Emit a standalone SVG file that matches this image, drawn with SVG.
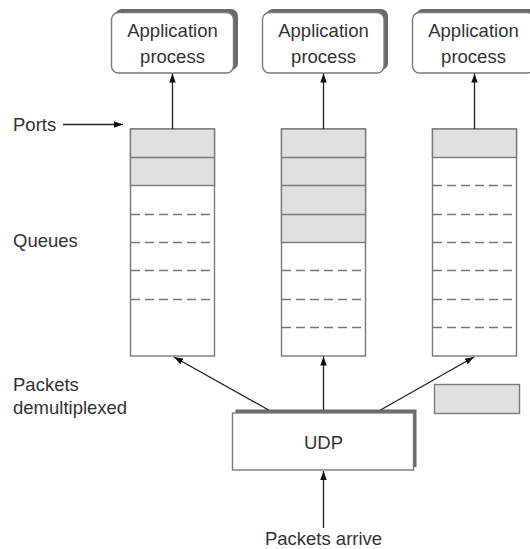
<svg xmlns="http://www.w3.org/2000/svg" width="530" height="549" viewBox="0 0 530 549">
<defs>
<marker id="ah" markerWidth="10" markerHeight="8" refX="9" refY="4" orient="auto" markerUnits="userSpaceOnUse">
<path d="M0,0.8 L9,4 L0,7.2 Z" fill="#111"/>
</marker>
<style>
text{font-family:"Liberation Sans",Arial,sans-serif;font-size:18.5px;fill:#333}
.mid{text-anchor:middle}
.box{fill:#fff;stroke:#7a7a7a;stroke-width:1.4}
.shadow{fill:#6a6a6a}
.gray{fill:#e0e0e0;stroke:#7a7a7a;stroke-width:1.4}
.sep{stroke:#7a7a7a;stroke-width:1.4}
.dash{stroke:#777;stroke-width:1.5;stroke-dasharray:9,5}
.conn{stroke:#222;stroke-width:1.3;fill:none;marker-end:url(#ah)}
</style>
</defs>
<rect width="530" height="549" fill="#fff"/>

<g id="app1">
<rect class="shadow" x="115" y="9" width="123" height="61" rx="7"/>
<rect class="box" x="111.5" y="12.5" width="122" height="60.5" rx="7"/>
<text class="mid" x="172.5" y="37">Application</text>
<text class="mid" x="172.5" y="63">process</text>
</g>
<g id="app2">
<rect class="shadow" x="266" y="9" width="122" height="61" rx="7"/>
<rect class="box" x="262.5" y="12.5" width="121.5" height="60.5" rx="7"/>
<text class="mid" x="323.5" y="37">Application</text>
<text class="mid" x="323.5" y="63">process</text>
</g>
<g id="app3">
<rect class="shadow" x="416" y="9" width="123" height="61" rx="7"/>
<rect class="box" x="412.5" y="12.5" width="122" height="60.5" rx="7"/>
<text class="mid" x="473.5" y="37">Application</text>
<text class="mid" x="473.5" y="63">process</text>
</g>

<g id="queue1">
<rect class="box" x="130.5" y="129" width="84" height="227"/>
<rect class="gray" x="130.5" y="129" width="84" height="56.5"/>
<line class="sep" x1="130.5" y1="157.5" x2="214.5" y2="157.5"/>
<line class="dash" x1="131" y1="214.5" x2="212" y2="214.5"/>
<line class="dash" x1="131" y1="242.5" x2="212" y2="242.5"/>
<line class="dash" x1="131" y1="270.5" x2="212" y2="270.5"/>
<line class="dash" x1="131" y1="299.5" x2="212" y2="299.5"/>
</g>
<g id="queue2">
<rect class="box" x="281.5" y="129" width="84" height="227"/>
<rect class="gray" x="281.5" y="129" width="84" height="113.5"/>
<line class="sep" x1="281.5" y1="157.5" x2="365.5" y2="157.5"/>
<line class="sep" x1="281.5" y1="185.5" x2="365.5" y2="185.5"/>
<line class="sep" x1="281.5" y1="214.5" x2="365.5" y2="214.5"/>
<line class="dash" x1="282" y1="270.5" x2="363" y2="270.5"/>
<line class="dash" x1="282" y1="299.5" x2="363" y2="299.5"/>
<line class="dash" x1="282" y1="327.5" x2="363" y2="327.5"/>
</g>
<g id="queue3">
<rect class="box" x="432.5" y="129" width="84" height="227"/>
<rect class="gray" x="432.5" y="129" width="84" height="28.5"/>
<line class="dash" x1="433" y1="185.5" x2="514" y2="185.5"/>
<line class="dash" x1="433" y1="214.5" x2="514" y2="214.5"/>
<line class="dash" x1="433" y1="242.5" x2="514" y2="242.5"/>
<line class="dash" x1="433" y1="270.5" x2="514" y2="270.5"/>
<line class="dash" x1="433" y1="299.5" x2="514" y2="299.5"/>
<line class="dash" x1="433" y1="327.5" x2="514" y2="327.5"/>
</g>

<g id="packet">
<rect class="gray" x="434.5" y="384.5" width="85" height="29"/>
</g>

<g id="udp">
<rect class="shadow" x="235.5" y="409.5" width="181" height="57.5"/>
<rect class="box" x="232.5" y="413" width="181" height="57"/>
<text class="mid" x="323.5" y="449">UDP</text>
</g>

<g id="labels">
<text x="13" y="131">Ports</text>
<text x="13" y="247">Queues</text>
<text x="13" y="391">Packets</text>
<text x="13" y="414">demultiplexed</text>
<text class="mid" x="323.5" y="545">Packets arrive</text>
</g>

<g id="connectors">
<line class="conn" x1="63" y1="124.5" x2="123" y2="124.5"/>
<line class="conn" x1="172.5" y1="129" x2="172.5" y2="73.5"/>
<line class="conn" x1="323.5" y1="129" x2="323.5" y2="73.5"/>
<line class="conn" x1="474.5" y1="129" x2="474.5" y2="73.5"/>
<line class="conn" x1="268.5" y1="410" x2="174" y2="357"/>
<line class="conn" x1="323.5" y1="410" x2="323.5" y2="356.5"/>
<line class="conn" x1="380.5" y1="410" x2="474" y2="357"/>
<line class="conn" x1="323.5" y1="528" x2="323.5" y2="471"/>
</g>
</svg>
